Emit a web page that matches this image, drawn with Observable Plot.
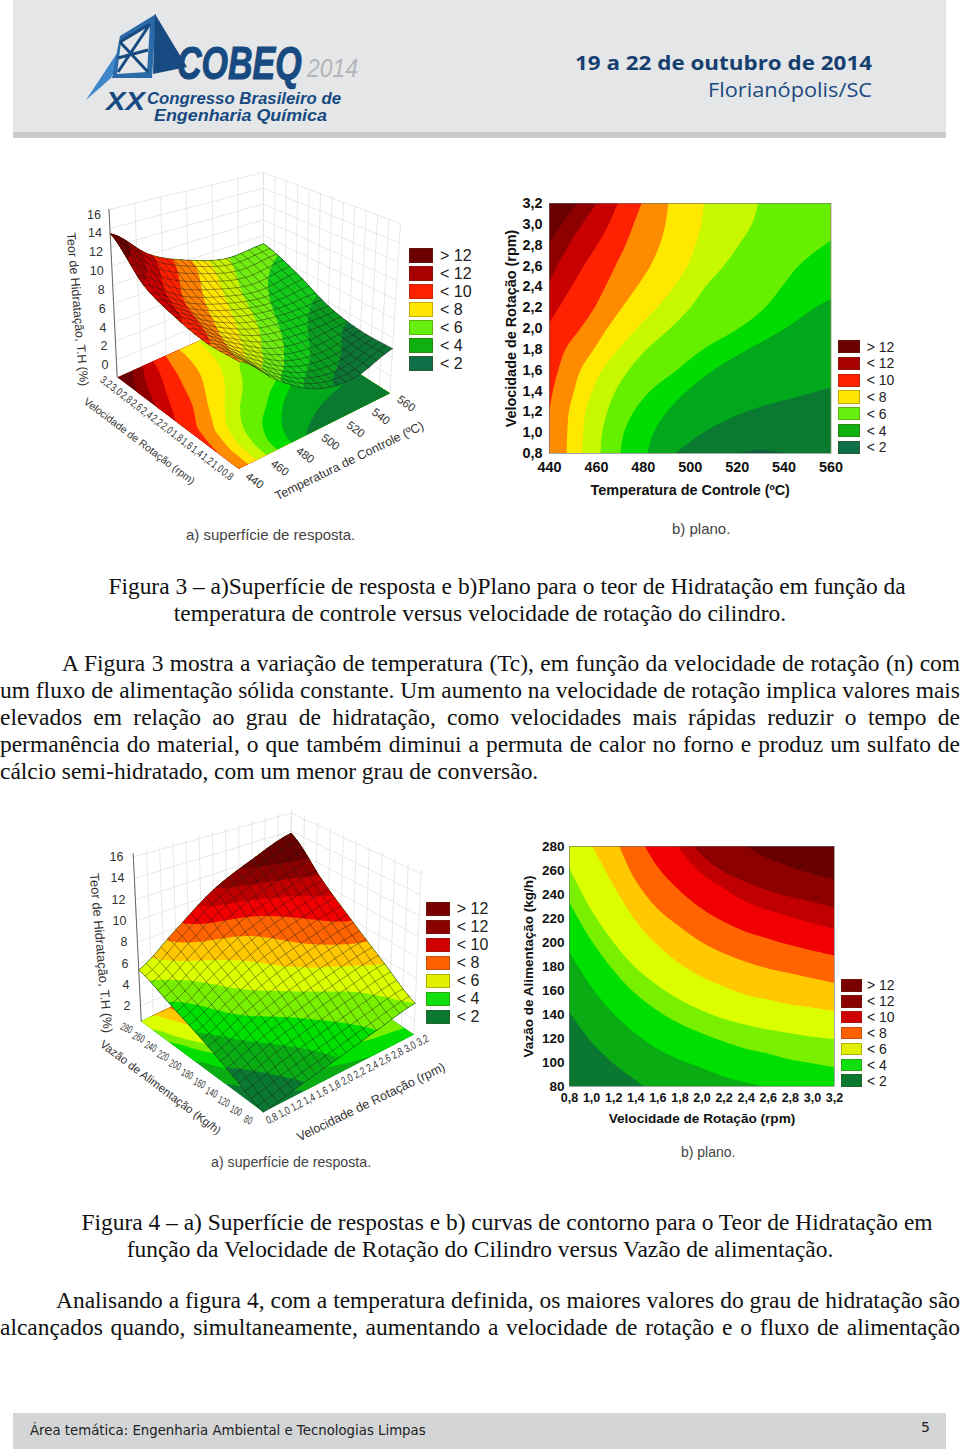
<!DOCTYPE html>
<html lang="pt"><head><meta charset="utf-8">
<script src="https://cdn.jsdelivr.net/npm/d3@7"></script>
<script src="https://cdn.jsdelivr.net/npm/@observablehq/plot@0.6"></script>
<style>
html,body{margin:0;padding:0;background:#fff}
#page{position:relative;width:960px;height:1451px;overflow:hidden;font-family:"Liberation Serif",serif;color:#111}
#page svg{position:absolute}
.ln{position:absolute;left:0;width:960px;font-size:23.45px;line-height:27px;white-space:nowrap}
.ln.j{text-align:justify;text-align-last:justify;white-space:normal}
.ln.l{text-align:left}
.ln.c{text-align:center}
.cap{position:absolute;font-family:"Liberation Sans",sans-serif;color:#444;white-space:nowrap}
.sw{position:absolute;box-sizing:border-box;border:1px solid rgba(90,60,20,.35)}
.lg{position:absolute;font-family:"Liberation Sans",sans-serif;color:#222;white-space:nowrap;line-height:1}
.bar{position:absolute}
</style></head><body><div id="page"></div>
<script>
// ---------- data ----------
const rpmTicks=[0.8,1.0,1.2,1.4,1.6,1.8,2.0,2.2,2.4,2.6,2.8,3.0,3.2];
const tempTicks=[440,460,480,500,520,540,560];
const flowTicks=[80,100,120,140,160,180,200,220,240,260,280];
const zTicks3=[0,2,4,6,8,10,12,14,16];
const zTicks4=[2,4,6,8,10,12,14,16];
const legendLabels=["> 12","< 12","< 10","< 8","< 6","< 4","< 2"];
// Fig 3b band edges: temperature of each edge at rpmTicks, left to right
const t1=[430,430,430,430,430,430,424,428,432,436.4,440,445.7,452.1];
const t2=[427,427,427,427,427,427,431,435,439.3,443.6,448.5,454.2,460.6];
const t3=[428,428,428,428,428,433,438.6,444.3,449.7,454.9,460.6,465.6,469.4];
const t4=[438.6,439.3,440.1,441.7,444,447.1,453.5,459.5,464.1,468.4,472.7,476.2,479.5];
const t5=[447.5,447.8,448.5,450.7,453.5,459.2,464.9,471.2,477.6,483.3,487.2,489.7,490.9];
const t6=[454.2,454.6,455.6,458.5,462.7,469.8,477.6,486.2,493.3,499,502.5,505,506];
const t7=[462,462.7,464.9,468.4,474.1,481.9,491.8,500.4,506.8,514.6,521,526.6,529.2];
const t8=[470.5,472,476.2,483.3,494.7,506,521,532.3,539.4,546.5,557.5,572,585.6];
const t9=[481.9,484.7,490.4,499,510.3,525.2,540.9,553.6,570,580,588.4,597,605.5];
const t10=[494,506,524.5,555.8,585.6,600,610,620,630,640,650,660,670];
const edges3=[t1,t2,t3,t4,t5,t6,t7,t8,t9,t10];
const colors3=["#6a0000","#8e0000","#c80000","#ff2200","#ff8c00","#ffe800","#c8f800","#66f000","#00dc00","#02a81c","#0a7a30"];
const surface3=["#0c7434","#0a9c20","#12c818","#70ec10","#c8f000","#ffe400","#ff8000","#ff2000","#cc0000","#a00000","#6b0000"];
// Fig 4b band edges: flow of each edge at rpmTicks, bottom to top
const f1=[142,117,99,85,72,66,62,60,60,60,60,60,60];
const f2=[192,163,140.6,124,111,102,95,88,83,79,75,72,70];
const f3=[233.6,201.7,176.7,157,143,132,124,117,111,107,102,99,95.6];
const f4=[262,227,200,179,164,152,143,136,131,127,124,121,119];
const f5=[320,282,247.5,218,197.5,182,171,163,156,152,148,145.5,142.5];
const f6=[360,320,290,251.7,228,213,200,190.6,183.6,178,174,170,166];
const f7=[400,360,330,295,263,243,228,217,208.6,203,197.5,193,189];
const f8=[420,390,350,330,305,278,257,245,233.6,226.7,221,215.6,211];
const f9=[440,410,380,340,320,295,272.5,258.6,250,243,237.8,233.6,229];
const f10=[460,430,400,370,340,320,305,295,280,270,262.8,257,252];
const edges4=[f1,f2,f3,f4,f5,f6,f7,f8,f9,f10];
const colors4=["#0a7830","#0aac14","#00e000","#78f000","#dcff00","#ffc800","#ff6400","#f00000","#c00000","#8c0000","#680000"];
// surface heights and colour levels, read at five stations each way
const height3=[[8.8,5.18,2.5,1.67,2.87],[8.5,5.8,3.3,2.4,2.86],[9,6.5,4.6,3.8,3.6],[10.2,7.6,6,5,5.45],[13.45,10,8,6.7,6.95]];
const shade3=[[6.1,3.3,1.6,.5,.2],[7.1,4.9,3,1.6,.6],[8.2,6.1,4.3,2.5,1.7],[9,7,5.2,3.3,2.5],[11,8.2,6.2,4.1,3.3]];
const height4=[[.6,1.3,2,2.8,3.6],[1.8,3,3.9,4.8,5.56],[3.05,4.6,6,7,7.8],[4.2,6.2,8.1,9.4,10.4],[5.4,7.8,10.4,12.2,13.75]];
const shade4=[[0,.9,2,3,4],[.8,2,3.1,4.1,5],[1.8,3.4,4.7,5.9,6.9],[2.9,4.7,6.2,7.6,8.7],[4.4,6.6,8.9,10.4,11.5]];
const levels=[-99,1,2,3,4,5,6,7,8,9,10];
const legend3a=["#6b0000","#a80000","#ff2000","#ffe600","#66f010","#10b010","#0f6f48"];
const legend4a=["#780000","#8b0000","#d00000","#ff6000","#e0f000","#10e010","#0a7a30"];
// camera frames of the two 3-D boxes (floor and lid of the corners)
const cube3={A:[[116.7,376.7],[108.5,209]],B:[[238.3,468.3],[238,288]],C:[[389.3,392.7],[400,223]],D:[[263,312],[263,172]],z:[-1.8,16]};
const cube4={A:[[140.7,1020.7],[132.7,853.3]],B:[[262.7,1111.7],[263,927]],C:[[413.3,1034],[420.7,870]],D:[[288,950],[291,810]],z:[.6,16.3]};

// ---------- helpers ----------
const comma=d=>d.toFixed(1).replace(".",",");
const cr=(p,t)=>{const m=p.length-1,s=Math.min(Math.max(t,0),1)*m,i=Math.min(Math.floor(s),m-1),f=s-i,a=p[Math.max(i-1,0)],b=p[i],c=p[i+1],d=p[Math.min(i+2,m)];
 return .5*(2*b+(-a+c)*f+(2*a-5*b+4*c-d)*f*f+(-a+3*b-3*c+d)*f*f*f)};
const surf=(g,u,v)=>cr(g.map(r=>cr(r,u)),v);
const lerp=(a,b,t)=>a+(b-a)*t;
function proj(c,u,v,w){
 const p=i=>{const bot=lerp(lerp(c.B[0][i],c.C[0][i],u),lerp(c.A[0][i],c.D[0][i],u),v),top=lerp(lerp(c.B[1][i],c.C[1][i],u),lerp(c.A[1][i],c.D[1][i],u),v);return lerp(bot,top,w)};
 return [p(0),p(1)];
}
const zw=(c,z)=>(z-c.z[0])/(c.z[1]-c.z[0]);
function build(c,heights,shades,floorBands,surfBands,edges,floorRing,wallU,wallV,zTicks){
 const walls=[],fills=[],mesh=[];let id=0;
 const seg=(pts,arr)=>{id++;pts.forEach(p=>arr.push({x:p[0],y:p[1],id}))};
 wallU.forEach(u=>seg([proj(c,u,1,0),proj(c,u,1,1)],walls));
 wallV.forEach(v=>seg([proj(c,1,v,0),proj(c,1,v,1)],walls));
 zTicks.forEach(z=>{const w=zw(c,z);seg([proj(c,0,1,w),proj(c,1,1,w),proj(c,1,0,w)],walls)});
 const ring=(pts,color)=>{id++;pts.forEach(p=>fills.push({x:p[0],y:p[1],id,color}))};
 ring([[0,0],[1,0],[1,1],[0,1]].map(([u,v])=>proj(c,u,v,0)),floorBands[0]);
 edges.forEach((e,i)=>ring(floorRing(e).map(([u,v])=>proj(c,u,v,0)),floorBands[i+1]));
 const N=81,vals=new Float64Array(N*N);
 for(let j=0;j<N;j++)for(let i=0;i<N;i++)vals[j*N+i]=surf(shades,i/(N-1),j/(N-1));
 const P=(u,v)=>proj(c,u,v,zw(c,surf(heights,u,v)));
 d3.contours().size([N,N]).thresholds(levels)(vals).forEach((g,k)=>{
  g.coordinates.forEach(poly=>ring(poly[0].map(([x,y])=>P(Math.min(Math.max((x-.5)/(N-1),0),1),Math.min(Math.max((y-.5)/(N-1),0),1))),surfBands[k]));
 });
 const M=20;
 for(let a=0;a<=M;a++){
  seg(d3.range(41).map(b=>P(a/M,b/40)),mesh);
  seg(d3.range(41).map(b=>P(b/40,a/M)),mesh);
 }
 return {walls,fills,mesh};
}
const sample=n=>d3.range(n+1).map(i=>i/n);
const norm=(d,x)=>(x-d[0])/(d[1]-d[0]);
const ring3=e=>{const pts=sample(96).map(t=>[Math.min(Math.max(norm([440,560],cr(e,t)),0),1),t]);return pts.concat([[1,1],[1,0]])};
const ring4=e=>{const pts=sample(96).map(t=>[t,Math.min(Math.max(norm([80,280],cr(e,t)),0),1)]);return pts.concat([[1,1],[0,1]])};
const S3=build(cube3,height3,shade3,colors3,surface3,edges3,ring3,tempTicks.map(t=>norm([440,560],t)),rpmTicks.map(t=>norm([.8,3.2],t)),zTicks3);
const S4=build(cube4,height4,shade4,colors4,colors4,edges4,ring4,rpmTicks.map(t=>norm([.8,3.2],t)),flowTicks.map(t=>norm([80,280],t)),zTicks4);
const at=(c,u,v,w,text)=>{const p=proj(c,u,v,w);return {x:p[0],y:p[1],text}};
const sansAttr={fontFamily:"Liberation Sans, sans-serif",fill:"#333",stroke:"none"};

const marks3D=S=>[
 Plot.line(S.walls,{x:"x",y:"y",z:"id",stroke:"#e2e2e2",strokeWidth:.8}),
 Plot.line(S.fills,{x:"x",y:"y",z:"id",fill:"color",stroke:"none"}),
 Plot.line(S.mesh,{x:"x",y:"y",z:"id",stroke:"#1a1a1a",strokeWidth:.55,strokeOpacity:.8})
];
const text3D=(rows,opt)=>Plot.text(rows,{x:"x",y:"y",text:"text",...sansAttr,...opt});
const axisLine=(c)=>{const a=proj(c,0,1,0),b=proj(c,0,1,1);return Plot.line([{x:a[0],y:a[1]},{x:b[0],y:b[1]}],{x:"x",y:"y",stroke:"#666",strokeWidth:1})};

const overlay=Plot.plot({width:960,height:1451,margin:0,
 x:{domain:[0,960],range:[0,960],axis:null},y:{domain:[0,1451],range:[0,1451],axis:null},
 color:{type:"identity"},style:{background:"transparent"},
 marks:[
  ...marks3D(S3),axisLine(cube3),
  text3D(zTicks3.map(z=>at(cube3,0,1,zw(cube3,z),String(z))),{textAnchor:"end",dx:-8,dy:5,fontSize:12.5}),
  text3D(rpmTicks.map(r=>at(cube3,-.075,norm([.8,3.2],r),0,comma(r))),{rotate:37,fontSize:11,className:"squeeze"}),
  text3D(tempTicks.map(t=>at(cube3,norm([440,560],t),-.13,0,String(t))),{rotate:36,fontSize:11.5}),
  text3D([at(cube3,-.26,.5,0,"Velocidade de Rotação (rpm)")],{rotate:37,fontSize:10.5}),
  text3D([at(cube3,.47,-.32,0,"Temperatura de Controle (ºC)")],{rotate:-26,fontSize:12.5}),
  text3D([at(cube3,-.2,1.05,.44,"Teor de Hidratação, T.H (%)")],{rotate:85,fontSize:12.5}),
  ...marks3D(S4),axisLine(cube4),
  text3D(zTicks4.map(z=>at(cube4,0,1,zw(cube4,z),String(z))),{textAnchor:"end",dx:-10,dy:0,fontSize:12.5}),
  text3D(rpmTicks.map(r=>at(cube4,norm([.8,3.2],r),-.07,0,comma(r))),{rotate:-27,fontSize:11,className:"squeeze"}),
  text3D(flowTicks.map(f=>at(cube4,-.1,norm([80,280],f),0,String(f))),{rotate:25,fontSize:11,className:"squeeze"}),
  text3D([at(cube4,-.28,.5,0,"Vazão de Alimentação (Kg/h)")],{rotate:37,fontSize:11.5}),
  text3D([at(cube4,.47,-.3,0,"Velocidade de Rotação (rpm)")],{rotate:-26,fontSize:12.6}),
  text3D([at(cube4,-.2,1.05,.45,"Teor de Hidratação, T.H (%)")],{rotate:85,fontSize:13})
 ]});
overlay.style.left="0";overlay.style.top="0";
overlay.querySelectorAll("g.squeeze text").forEach(t=>{t.setAttribute("textLength",t.textContent.length*3.9);t.setAttribute("lengthAdjust","spacingAndGlyphs")});

const boldStyle={fontFamily:"Liberation Sans, sans-serif",fontSize:"14.5px",fontWeight:"bold",color:"#111",background:"transparent",overflow:"visible"};
const rows3=rpmTicks.map((rpm,i)=>({rpm,...Object.fromEntries(edges3.map((e,k)=>["e"+k,e[i]]))}));
const rows4=rpmTicks.map((rpm,i)=>({rpm,...Object.fromEntries(edges4.map((e,k)=>["e"+k,e[i]]))}));
const sliver=[{T:522,r:.8},{T:527,r:.825},{T:532,r:.83},{T:537,r:.815},{T:541,r:.8}];
const plane3w=Plot.plot({width:380,height:310,marginLeft:58,marginTop:10,marginRight:40.5,marginBottom:50,style:boldStyle,
 x:{domain:[440,560]},y:{domain:[.8,3.2]},
 marks:[
  Plot.rect([{}],{x1:()=>440,x2:()=>560,y1:()=>.8,y2:()=>3.2,fill:colors3[0]}),
  ...edges3.map((e,k)=>Plot.areaX(rows3,{y:"rpm",x1:"e"+k,x2:()=>700,fill:colors3[k+1],curve:"catmull-rom",clip:true})),
  Plot.areaY(sliver,{x:"T",y1:()=>.8,y2:"r",fill:"#0f5f3c",curve:"catmull-rom"}),
  Plot.frame({stroke:"#6a6a6a",strokeWidth:.6}),
  Plot.axisX({ticks:tempTicks,tickSize:0,tickPadding:8,label:"Temperatura de Controle (ºC)",labelAnchor:"center",labelArrow:"none",labelOffset:41,fontSize:14.4}),
  Plot.axisY({ticks:rpmTicks,tickSize:0,tickPadding:7,tickFormat:comma,label:"Velocidade de Rotação (rpm)",labelAnchor:"center",labelArrow:"none",labelOffset:44,fontSize:14.4})
 ]});
plane3w.style.left="490.5px";plane3w.style.top="193.3px";
const plane4=Plot.plot({width:360,height:300,marginLeft:59,marginTop:10,marginRight:36,marginBottom:50,style:{...boldStyle,fontSize:"14px"},
 x:{domain:[.8,3.2]},y:{domain:[80,280]},
 marks:[
  Plot.rect([{}],{x1:()=>.8,x2:()=>3.2,y1:()=>80,y2:()=>280,fill:colors4[0]}),
  ...edges4.map((e,k)=>Plot.areaY(rows4,{x:"rpm",y1:"e"+k,y2:()=>520,fill:colors4[k+1],curve:"catmull-rom",clip:true})),
  Plot.frame({stroke:"#6a6a6a",strokeWidth:.6}),
  Plot.axisX({ticks:rpmTicks,tickSize:0,tickPadding:7,tickFormat:comma,label:null,fontSize:12.5}),
  Plot.axisX({ticks:[],tickSize:0,label:"Velocidade de Rotação (rpm)",labelAnchor:"center",labelArrow:"none",labelOffset:36,fontSize:13.6}),
  Plot.axisY({ticks:flowTicks,tickSize:0,tickPadding:5,label:"Vazão de Alimentação (kg/h)",labelAnchor:"center",labelArrow:"none",labelOffset:46,fontSize:13.5})
 ]});
plane4.style.left="510px";plane4.style.top="836px";

// ---------- page ----------
const page=document.getElementById("page");
const bar=(l,t,w,h,c)=>{const d=document.createElement("div");d.className="bar";d.style.cssText=`left:${l}px;top:${t}px;width:${w}px;height:${h}px;background:${c}`;page.append(d)};
bar(13,0,933,132,"#e4e6e8");bar(13,132,933,6,"#c9cbcd");bar(13,1413,933,36,"#d3d5d7");
page.append(overlay,plane3w,plane4);
const logo=document.createElementNS("http://www.w3.org/2000/svg","svg");
logo.setAttribute("width",960);logo.setAttribute("height",140);logo.style.cssText="left:0;top:0";
logo.innerHTML=`<polygon points="86,100 133,29 111,78" fill="#3f86c8"/><polygon points="112,78 120,36 156,14 152,78" fill="#2a6aa8"/>
<polygon points="121,42 150,24 147,72 117,74" fill="#e4e6e8"/><path d="M120,42L150,24M120,42L148,72M150,24L118,72M118,58L148,50" stroke="#174a80" stroke-width="3" fill="none"/>
<polygon points="155,14 187,67 153,74" fill="#174a80"/>
<g font-family="Liberation Sans" font-style="italic" fill="#174a80"><text transform="translate(177,79) scale(1,1.38)" font-size="34" font-weight="bold" stroke="#174a80" stroke-width=".8">COBEQ</text>
<text x="307" y="77" font-size="26" fill="#b4b6b8" font-weight="normal" textLength="51" lengthAdjust="spacingAndGlyphs">2014</text>
<text x="106" y="110" font-size="26" font-weight="bold" textLength="39" lengthAdjust="spacingAndGlyphs">XX</text>
<text x="147" y="104" font-size="16" font-weight="bold" textLength="194" lengthAdjust="spacingAndGlyphs">Congresso Brasileiro de</text>
<text x="154" y="121" font-size="16" font-weight="bold" textLength="173" lengthAdjust="spacingAndGlyphs">Engenharia Química</text></g>
<text x="575" y="70" font-family="Open Sans" font-weight="bold" font-size="19.5" fill="#163f70" textLength="297" lengthAdjust="spacingAndGlyphs">19 a 22 de outubro de 2014</text>
<text x="708" y="96.5" font-family="Open Sans" font-size="19.5" fill="#1c4a80" textLength="164" lengthAdjust="spacingAndGlyphs">Florianópolis/SC</text>`;
page.append(logo);
const cap=(x,y,t,fs)=>{const d=document.createElement("div");d.className="cap";d.style.cssText=`left:${x}px;top:${y-fs*.58}px;font-size:${fs}px`;d.textContent=t;page.append(d)};
cap(186,535,"a) superfície de resposta.",15);cap(672,529,"b) plano.",15);cap(211,1162,"a) superfície de resposta.",14.2);cap(681,1152,"b) plano.",14);
const legend=(x,y,w,h,pitch,tx,fs,cols)=>legendLabels.forEach((t,i)=>{
 const s=document.createElement("div");s.className="sw";s.style.cssText=`left:${x}px;top:${y+i*pitch}px;width:${w}px;height:${h}px;background:${cols[i]}`;page.append(s);
 const l=document.createElement("div");l.className="lg";l.style.cssText=`left:${tx}px;top:${y+i*pitch+h/2-fs/2}px;font-size:${fs}px`;l.textContent=t;page.append(l);
});
legend(409.3,248.3,24,15,18,440,16,legend3a);
legend(838.3,340,21.7,13.3,16.8,866.7,14,legend3a);
legend(426,901.7,24,14.3,18,456.7,16,legend4a);
legend(840.7,979,21,12.7,15.9,867,14,legend4a);
const lines=[
 [573,"c","Figura 3 – a)Superfície de resposta e b)Plano para o teor de Hidratação em função da",54],
 [600,"c","temperatura de controle versus velocidade de rotação do cilindro.",0],
 [650,"j","A Figura 3 mostra a variação de temperatura (Tc), em função da velocidade de rotação (n) com",62],
 [677,"j","um fluxo de alimentação sólida constante. Um aumento na velocidade de rotação implica valores mais",0],
 [704,"j","elevados em relação ao grau de hidratação, como velocidades mais rápidas reduzir o tempo de",0],
 [731,"j","permanência do material, o que também diminui a permuta de calor no forno e produz um sulfato de",0],
 [758,"l","cálcio semi-hidratado, com um menor grau de conversão.",0],
 [1209,"c","Figura 4 – a) Superfície de respostas e b) curvas de contorno para o Teor de Hidratação em",54],
 [1236,"c","função da Velocidade de Rotação do Cilindro versus Vazão de alimentação.",0],
 [1287,"j","Analisando a figura 4, com a temperatura definida, os maiores valores do grau de hidratação são",56],
 [1314,"j","alcançados quando, simultaneamente, aumentando a velocidade de rotação e o fluxo de alimentação",0]
];
lines.forEach(([y,k,t,ind])=>{const d=document.createElement("div");d.className="ln "+k;d.style.top=y+"px";d.style.textIndent=ind+"px";d.textContent=t;page.append(d)});
const foot=document.createElement("div");foot.style.cssText='position:absolute;left:30px;top:1423px;font:13.3px "DejaVu Sans",sans-serif;color:#222;white-space:nowrap';foot.textContent="Área temática: Engenharia Ambiental e Tecnologias Limpas";page.append(foot);
const pg=document.createElement("div");pg.style.cssText='position:absolute;left:921px;top:1419px;font:14px "DejaVu Sans",sans-serif;color:#222';pg.textContent="5";page.append(pg);
</script></body></html>
